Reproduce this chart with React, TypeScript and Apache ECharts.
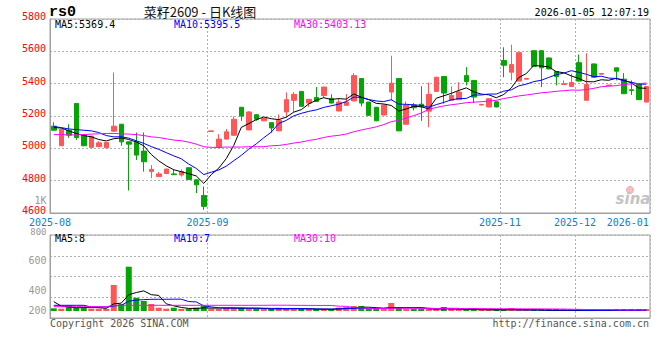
import React, { useEffect, useRef } from 'react';
import * as echarts from 'echarts';

// ---- categories (trading days, grouped by month label) ----
const monthLabels = ['2025-08', '2025-09', '2025-11', '2025-12', '2026-01'];
const monthCandleCounts = [21, 39, 10, 9, 1];
const monthGridline = [false, true, true, true, false];

// ---- daily prices ----
const opens = [
  5137, 5016, 5112, 5278, 5081, 5006, 5010, 5003, 5106, 5149,
  5040, 5040, 4983, 4856, 4825, 4844, 4842, 4835, 4880, 4805,
  4708, 5104, 5006, 5057, 5081, 5254, 5114, 5208, 5170, 5159,
  5108, 5225, 5297, 5352, 5280, 5315, 5327, 5309, 5231, 5266,
  5293, 5432, 5286, 5254, 5206, 5348, 5432, 5149, 5268, 5273,
  5230, 5352, 5444, 5297, 5301, 5450, 5420, 5268, 5256, 5288,
  5543, 5471, 5416, 5428, 5604, 5604, 5559, 5475, 5395, 5383,
  5530, 5297, 5522, 5459, 5387, 5498, 5428, 5362, 5399, 5286,
];
const closes = [
  5112, 5118, 5081, 5067, 5016, 5075, 5034, 5036, 5137, 5040,
  5026, 4958, 4917, 4870, 4842, 4872, 4837, 4856, 4807, 4774,
  4641, 5108, 5057, 5102, 5180, 5200, 5225, 5180, 5184, 5126,
  5174, 5301, 5334, 5260, 5303, 5290, 5379, 5280, 5286, 5286,
  5450, 5280, 5204, 5170, 5268, 5403, 5108, 5268, 5251, 5257,
  5334, 5440, 5342, 5327, 5348, 5413, 5317, 5272, 5307, 5256,
  5514, 5518, 5592, 5432, 5506, 5498, 5491, 5444, 5400, 5407,
  5416, 5395, 5440, 5463, 5391, 5477, 5338, 5358, 5301, 5383,
];
const lows = [
  5110, 5014, 5065, 5053, 5014, 5000, 5008, 5001, 5102, 5016,
  4739, 4928, 4856, 4815, 4823, 4842, 4835, 4825, 4805, 4723,
  4620, 5104, 5004, 5055, 5079, 5170, 5112, 5170, 5168, 5096,
  5106, 5190, 5225, 5258, 5256, 5288, 5311, 5278, 5229, 5264,
  5291, 5260, 5202, 5168, 5204, 5297, 5106, 5147, 5235, 5170,
  5130, 5350, 5276, 5295, 5299, 5389, 5280, 5266, 5254, 5254,
  5440, 5420, 5414, 5426, 5504, 5379, 5489, 5389, 5393, 5381,
  5414, 5295, 5438, 5457, 5385, 5420, 5336, 5330, 5299, 5284,
];
const highs = [
  5161, 5120, 5149, 5280, 5088, 5078, 5044, 5038, 5469, 5151,
  5044, 5098, 5098, 4897, 4854, 4874, 4870, 4870, 4882, 4807,
  4764, 5108, 5088, 5120, 5198, 5256, 5229, 5210, 5186, 5161,
  5210, 5346, 5348, 5354, 5305, 5379, 5381, 5334, 5307, 5336,
  5465, 5434, 5288, 5256, 5270, 5573, 5434, 5290, 5280, 5384,
  5407, 5442, 5446, 5383, 5409, 5502, 5422, 5274, 5309, 5290,
  5625, 5641, 5594, 5434, 5606, 5606, 5561, 5477, 5420, 5461,
  5580, 5588, 5524, 5465, 5393, 5500, 5465, 5420, 5401, 5385,
];

// ---- daily volume (lots) ----
const volumes = [
  27, 23, 57, 33, 33, 23, 23, 17, 260, 70,
  443, 133, 100, 70, 33, 23, 33, 17, 23, 33,
  50, 23, 17, 33, 33, 33, 23, 17, 17, 17,
  33, 23, 23, 17, 17, 17, 17, 17, 33, 40,
  50, 50, 17, 10, 10, 80, 40, 17, 17, 17,
  20, 15, 40, 8, 8, 8, 30, 6, 6, 6,
  10, 30, 7, 3, 6, 6, 6, 6, 3, 3,
  6, 6, 6, 6, 6, 8, 8, 8, 8, 8,
];

// ---- moving-average values before enough in-window history exists ----
const priceMa5Lead = [5128, 5126, 5108, 5092];
const priceMa10Lead = [5135, 5128, 5120, 5116, 5112, 5108, 5098, 5079, 5071];
const priceMa30Lead = [
  5085, 5085, 5083, 5083, 5085, 5088, 5090, 5092, 5092, 5090,
  5088, 5085, 5079, 5071, 5067, 5059, 5051, 5047, 5038, 5026,
  5010, 5006, 5006, 5008, 5008, 5008, 5010, 5010, 5010,
];
const volMa5Lead = [93, 50, 40, 33];
const volMa10Lead = [57, 57, 57, 57, 57, 40, 40, 40, 50];
const volMa30Lead = [
  43, 43, 43, 43, 43, 43, 43, 43, 57, 57,
  57, 57, 57, 57, 57, 57, 57, 57, 57, 57,
  57, 57, 57, 57, 57, 57, 57, 57, 57,
];

// ---- texts ----
const priceLegend = ['MA5:5369.4', 'MA10:5395.5', 'MA30:5403.13'];
const volumeLegend = ['MA5:8', 'MA10:7', 'MA30:10'];
const volumeTickLabels = ['1K', '800', '600', '400', '200'];
const titleCode = 'rs0';
const titleText = '菜籽2609 - 日K线图';
const timeText = '2026-01-05 12:07:19';
const footerLeft = 'Copyright 2026 SINA.COM';
const footerRight = 'http://finance.sina.com.cn';

// ---- styling / layout ----
const RED = '#ff5757';
const GREEN = '#05a505';
const BORDER = '#a0a0a0';
const DOT = '#b0b0b0';
const MA_COLORS = ['#000000', '#0000ff', '#ff00ff'];
const MONO = '"DejaVu Sans Mono", monospace';
const legendX = [55, 174, 294];
const volumeTickY = [200.7, 231.5, 260.7, 290, 310];
const volumeTickSize = [10, 9, 10, 10, 10];

function movingAverage(values: number[], n: number, lead: number[]): number[] {
  return values.map((_, i) => {
    if (i < n - 1) return lead[i];
    let s = 0;
    for (let k = i - n + 1; k <= i; k++) s += values[k];
    return Math.round((s / n) * 100) / 100;
  });
}

const categories: string[] = [];
const labelAt = new Map<number, string>();
const gridAt = new Set<number>();
{
  let start = 0;
  monthLabels.forEach((m, j) => {
    labelAt.set(start, m);
    if (monthGridline[j]) gridAt.add(start);
    for (let k = 0; k < monthCandleCounts[j]; k++) categories.push(`${m}/${k + 1}`);
    start += monthCandleCounts[j];
  });
}

export default function App() {
  const ref = useRef<HTMLDivElement>(null);

  useEffect(() => {
    document.body.style.margin = '0';
    if (!ref.current) return;
    const chart = echarts.init(ref.current, undefined, { renderer: 'svg' });

    const pMa = [
      movingAverage(closes, 5, priceMa5Lead),
      movingAverage(closes, 10, priceMa10Lead),
      movingAverage(closes, 30, priceMa30Lead),
    ];
    const vMa = [
      movingAverage(volumes, 5, volMa5Lead),
      movingAverage(volumes, 10, volMa10Lead),
      movingAverage(volumes, 30, volMa30Lead),
    ];

    const dotted = { color: DOT, width: 1, type: [2, 2] as any };
    const last = categories.length - 1;

    const text = (x: number, y: number, t: string, fill: string, align: string, font: string) => ({
      type: 'text',
      x,
      y,
      z: 100,
      silent: true,
      style: {
        text: t,
        fill,
        font,
        align,
        textAlign: align,
        verticalAlign: 'middle',
        textVerticalAlign: 'middle',
      },
    });

    const graphics: any[] = [
      text(49, 12, titleCode, '#000', 'left', `bold 15px "Liberation Mono", monospace`),
      text(200, 11, titleText, '#111', 'center', `13px "Noto Sans CJK SC", sans-serif`),
      text(649, 12, timeText, '#000', 'right', `10px ${MONO}`),
      text(50, 323.5, footerLeft, '#555', 'left', `10px ${MONO}`),
      text(649, 323.5, footerRight, '#555', 'right', `10px ${MONO}`),
      text(633, 199, 'sina', '#c4c4c4', 'center', `italic bold 15px "DejaVu Sans", sans-serif`),
      {
        type: 'circle',
        z: 99,
        silent: true,
        shape: { cx: 630, cy: 190, r: 3.5 },
        style: { fill: '#f6c0c0', stroke: '#eeaaaa', lineWidth: 1 },
      },
    ];
    priceLegend.forEach((t, i) => graphics.push(text(legendX[i], 24.5, t, MA_COLORS[i], 'left', `10px ${MONO}`)));
    volumeLegend.forEach((t, i) => graphics.push(text(legendX[i], 238.7, t, MA_COLORS[i], 'left', `10px ${MONO}`)));
    volumeTickLabels.forEach((t, i) =>
      graphics.push(text(46.5, volumeTickY[i], t, '#999', 'right', `${volumeTickSize[i]}px ${MONO}`)),
    );

    const maNames = ['MA5', 'MA10', 'MA30'];

    chart.setOption({
      animation: false,
      backgroundColor: '#ffffff',
      grid: [
        { left: 50, top: 19, width: 600, height: 194, show: true, borderColor: BORDER, borderWidth: 1, backgroundColor: 'transparent', outerBoundsMode: 'none' },
        { left: 50, top: 235, width: 600, height: 83, show: true, borderColor: BORDER, borderWidth: 1, backgroundColor: 'transparent', outerBoundsMode: 'none' },
      ],
      xAxis: [
        {
          type: 'category',
          gridIndex: 0,
          data: categories,
          boundaryGap: true,
          axisLine: { show: true, lineStyle: { color: BORDER } },
          axisTick: { show: false },
          axisLabel: {
            show: true,
            interval: (i: number) => labelAt.has(i),
            formatter: (_v: string, i: number) => {
              const m = labelAt.get(i) ?? '';
              return i === last ? `{e|${m}}` : `{m|${m}}`;
            },
            margin: 4,
            hideOverlap: false,
            rich: {
              m: { fontFamily: MONO, fontSize: 10, color: '#0b7fd0', lineHeight: 10, padding: [0, 7.5, 0, 0] },
              e: { fontFamily: MONO, fontSize: 10, color: '#0b7fd0', lineHeight: 10, padding: [0, 37, 0, 0] },
            },
          },
          splitLine: { show: true, interval: (i: number) => gridAt.has(i), lineStyle: dotted },
        },
        {
          type: 'category',
          gridIndex: 1,
          data: categories,
          boundaryGap: true,
          axisLine: { show: true, lineStyle: { color: BORDER } },
          axisTick: { show: false },
          axisLabel: { show: false },
          splitLine: { show: true, interval: (i: number) => gridAt.has(i), lineStyle: dotted },
        },
      ],
      yAxis: [
        {
          type: 'value',
          gridIndex: 0,
          min: 4600,
          max: 5800,
          interval: 200,
          axisLine: { show: true, lineStyle: { color: BORDER } },
          axisTick: { show: false },
          axisLabel: {
            color: '#ff0000',
            fontFamily: MONO,
            fontSize: 10,
            margin: 4,
            lineHeight: 5,
            verticalAlign: 'bottom',
            formatter: (v: number) => String(v),
          },
          splitLine: { show: true, lineStyle: dotted },
        },
        {
          type: 'value',
          gridIndex: 1,
          min: 0,
          max: 4,
          interval: 1,
          axisLine: { show: true, lineStyle: { color: BORDER } },
          axisTick: { show: false },
          axisLabel: { show: false },
          splitLine: { show: true, lineStyle: dotted },
        },
        {
          type: 'value',
          gridIndex: 1,
          min: -70,
          max: 760,
          show: false,
          splitLine: { show: false },
        },
      ],
      series: [
        {
          type: 'candlestick',
          name: 'K',
          xAxisIndex: 0,
          yAxisIndex: 0,
          barWidth: 5,
          silent: true,
          data: opens.map((o, i) => [o, closes[i], lows[i], highs[i]]),
          itemStyle: { color: RED, color0: GREEN, borderColor: RED, borderColor0: GREEN, borderWidth: 1 },
        },
        ...pMa.map((d, k) => ({
          type: 'line',
          name: maNames[k],
          xAxisIndex: 0,
          yAxisIndex: 0,
          data: d,
          symbol: 'none',
          showSymbol: false,
          silent: true,
          lineStyle: { color: MA_COLORS[k], width: 1 },
        })),
        {
          type: 'bar',
          name: 'VOL',
          xAxisIndex: 1,
          yAxisIndex: 2,
          barWidth: 6,
          barMinHeight: 2,
          silent: true,
          data: volumes.map((v, i) => ({ value: v, itemStyle: { color: closes[i] >= opens[i] ? RED : GREEN } })),
        },
        ...vMa.map((d, k) => ({
          type: 'line',
          name: 'V' + maNames[k],
          xAxisIndex: 1,
          yAxisIndex: 2,
          data: d,
          symbol: 'none',
          showSymbol: false,
          silent: true,
          lineStyle: { color: MA_COLORS[k], width: 1 },
        })),
      ],
      graphic: graphics,
    });

    return () => chart.dispose();
  }, []);

  return <div ref={ref} style={{ width: 660, height: 360 }} />;
}
